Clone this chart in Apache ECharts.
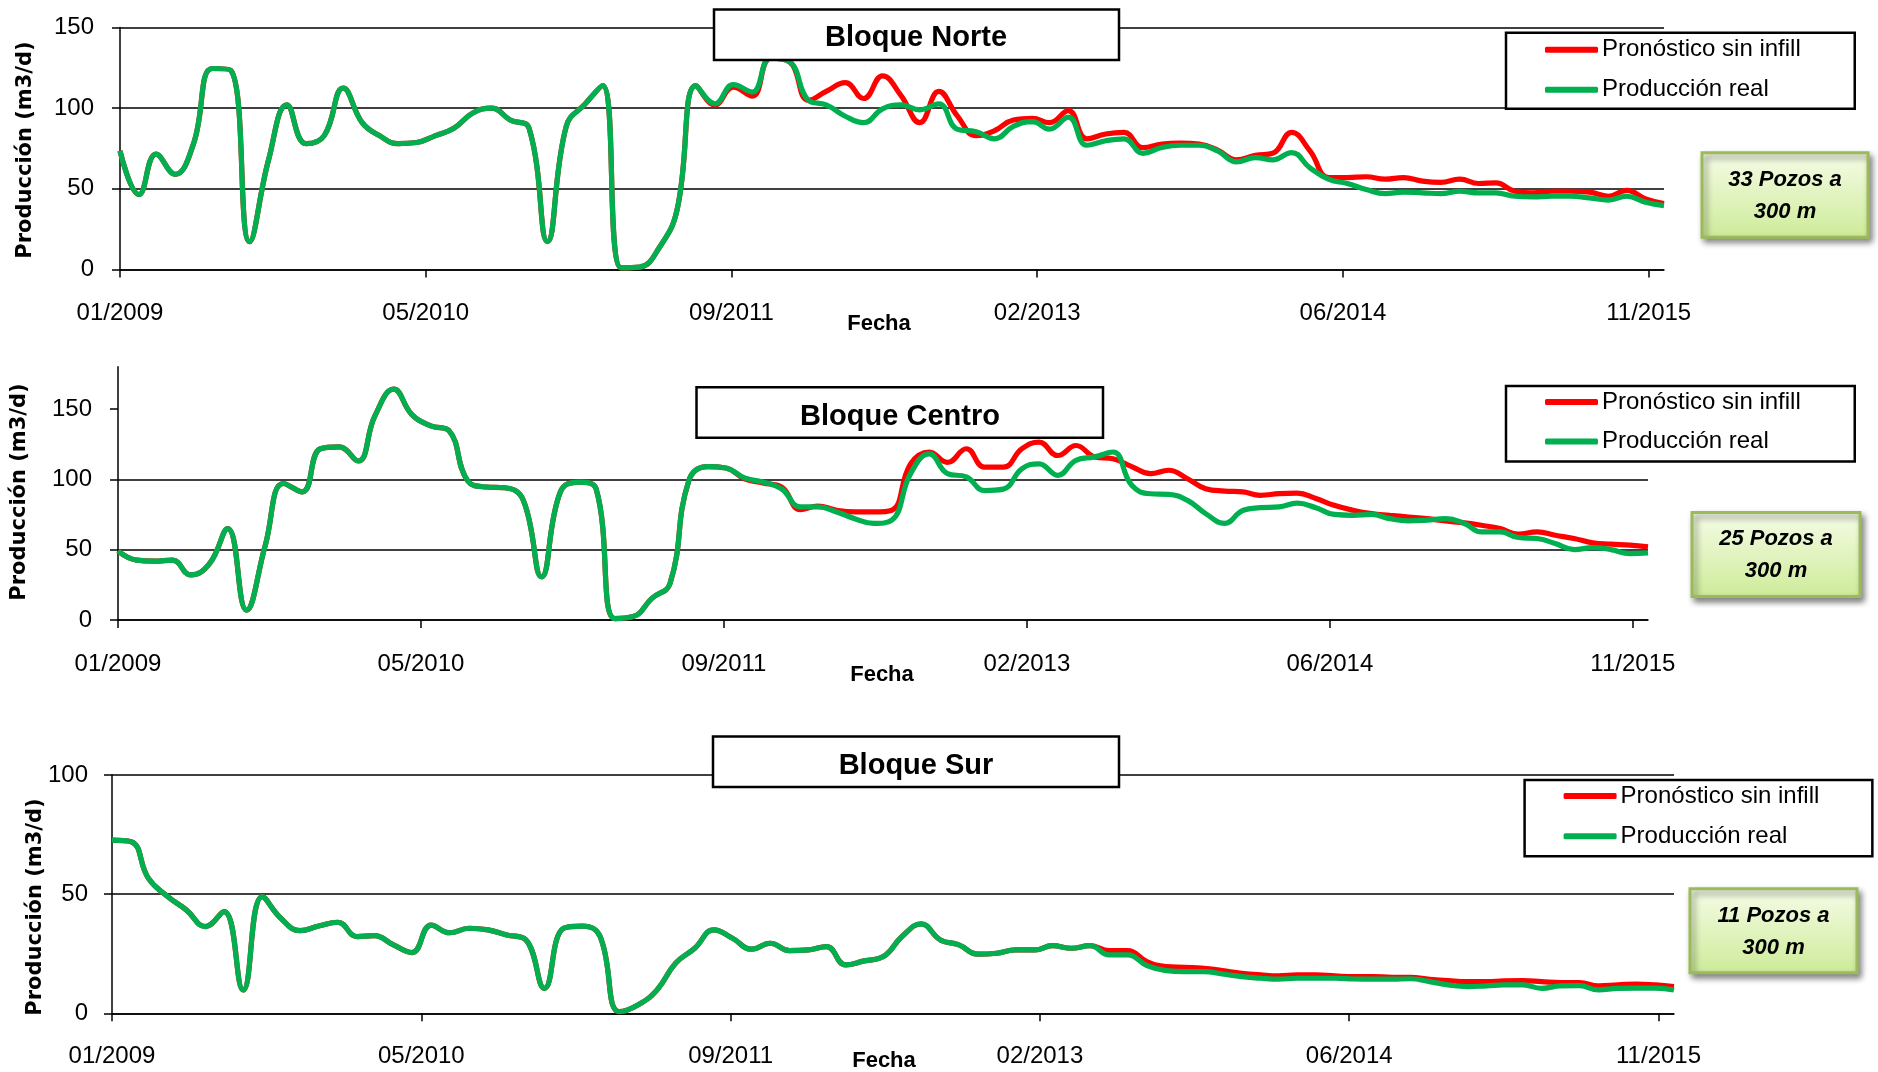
<!DOCTYPE html>
<html>
<head>
<meta charset="utf-8">
<script src="https://cdn.jsdelivr.net/npm/echarts@6/dist/echarts.min.js"></script>
<style>
html,body{margin:0;padding:0;background:#fff;}
#chart{width:1878px;height:1072px;}
</style>
</head>
<body>
<div id="chart"></div>
<script>
// ---- categories: monthly dates 01/2009 .. 12/2015 ----
const startYear = 2009;
const monthCount = 84;
const months = [];
for (let k = 0; k < monthCount; k++) months.push(Date.UTC(startYear, k, 1));

// x-axis tick positions (days from 01/01/2009, Excel major unit 500 days)
const xTickDays = [0, 500, 1000, 1500, 2000, 2500];
const xMaxDays = 2525;

const seriesNames = ['Pronóstico sin infill', 'Producción real'];
const blockTitles = ['Bloque Norte', 'Bloque Centro', 'Bloque Sur'];
const wellNotes = ['33 Pozos a\n300 m', '25 Pozos a\n300 m', '11 Pozos a\n300 m'];
const yTicksNorte = [0, 50, 100, 150];
const yTicksCentro = [0, 50, 100, 150];
const yTicksSur = [0, 50, 100];

// ---- Bloque Norte ----
const norteReal = [73.5,46.5,71.5,59,77.7,124.6,123.5,17.3,68,102,78,83,112.5,91,83,78,78.7,83,87.5,97,100,92.7,87.5,17.3,89,102.7,114,1,1.5,13,37,
  114,102.7,114.6,110,131,128.7,104.8,102,95,91,99.6,102,99,102.7,87,85.4,81,88.7,91.7,87,94.4,77,79.8,81,72,
  75.6,77,77,73.5,66.7,69.4,68,72.5,63,55.8,53.3,49.6,47,48,47.5,47,48.5,47.5,47.5,45.4,45,45.4,45.4,44.4,43,45.4,41.7,39.6];
const nortePron = [73.5,46.5,71.5,59,77.7,124.6,123.5,17.3,68,102,78,83,112.5,91,83,78,78.7,83,87.5,97,100,92.7,87.5,17.3,89,102.7,114,1,1.5,13,37,
  114,102,113,107.5,131,128.7,104.8,110.4,115.8,106,120,108,91,110.4,95.4,83,86,92.7,93.7,91,98.5,81,84,85,75.5,
  77.7,78.3,77.7,74,68,70.8,72,85,73.5,57,57,57.5,56,57,54.8,54,56,53.3,53.7,48.5,47.5,48.5,48.5,48,45.4,49,43.7,40.8];

// ---- Bloque Centro ----
const centroReal = [49,42.5,41.8,42.5,32,40,65,7,53,97,91,121.7,123,113,145,164,146,138,134.6,99,94.5,94,85,30.7,91,98,93.3,1,2.4,15.4,26,
  99,109,108,101,98,93.3,80.4,80.4,76.8,72,68.6,71,104,118,104,101.7,92,93,107.5,111,102.8,113.5,115.9,119.4,95.7,
  89.7,89.3,85,75.6,68.6,78,79.8,80.4,83,79.8,75,74.4,75,72,70.4,71,72,68.6,62.6,62.6,58.6,57.9,54.3,50,51.5,50,47.2,47.7];
const centroPron = [49,42.5,41.8,42.5,32,40,65,7,53,97,91,121.7,123,113,145,164,146,138,134.6,99,94.5,94,85,30.7,91,98,93.3,1,2.4,15.4,26,
  99,109,108,100.4,97.4,94.5,78.5,81,78,76.8,76.8,78,111,119.4,112,121.7,108.7,108.7,121.7,126.4,116.9,124,115.9,114.6,109,
  104,106.4,100.4,93.3,91.6,91,88.6,89.8,90.2,86.3,81.5,78,75.6,74.4,73.2,72,70.4,69,67.3,65,61,62.6,60.2,57.9,54.8,53.9,53.2,52];

// ---- Bloque Sur ----
const surReal = [72.7,72,56.6,49,43.4,36.4,42.7,9.8,49,39.9,34.7,36.6,38.2,32.2,32.6,28.7,25.5,37,33.8,35.7,35,32.9,30.8,10.5,35.7,36.6,32.2,0.7,3.5,9.8,21,
  27.3,35,31.5,26.9,29.4,26.3,26.6,28,20.3,22,23.8,32.2,37.5,30.8,28.7,24.8,25.2,26.6,26.6,28.4,27.3,28.4,24.5,24.5,20,
  17.9,17.5,17.5,16.5,15.4,14.7,14.3,14.7,14.7,14.7,14.4,14.3,14.3,14.5,13.3,11.9,11.2,11.5,11.9,11.9,10.5,11.5,11.6,9.8,10.5,10.6,10.6,9.8];
const surPron = [72.7,72,56.6,49,43.4,36.4,42.7,9.8,49,39.9,34.7,36.6,38.2,32.2,32.6,28.7,25.5,37,33.8,35.7,35,32.9,30.8,10.5,35.7,36.6,32.2,0.7,3.5,9.8,21,
  27.3,35,31.5,26.9,29.4,26.3,26.6,28,20.3,22,23.8,32.2,37.5,30.8,28.7,24.8,25.2,26.6,26.6,28.4,27.3,28.4,26.3,26.3,21.7,
  19.6,19.3,18.9,17.9,16.8,16.1,15.7,16.1,16.1,15.7,15.4,15.4,15.1,15.1,14.3,13.7,13.3,13.3,13.6,13.7,13.3,12.9,12.9,11.5,11.9,12.3,11.9,11.2];

// ---------------------------------------------------------------
const DAY = 86400000;
const origin = Date.UTC(startYear, 0, 1);
const dayOf = t => (t - origin) / DAY;
const pairs = vals => vals.map((v, i) => [dayOf(months[i]), v]);
const pad2 = n => (n < 10 ? '0' : '') + n;
const fmtDay = v => { const d = new Date(origin + v * DAY); return pad2(d.getUTCMonth() + 1) + '/' + d.getUTCFullYear(); };

const FONT = '"Liberation Sans", Arial, sans-serif';
const RED = '#ff0000', GREEN = '#00b050';

const grids = [
  {left: 120, top: 27.5, width: 1544, height: 242},
  {left: 118, top: 366.7, width: 1530, height: 253.3},
  {left: 112, top: 775, width: 1562, height: 238.3}
];
const yMax = [150, 180, 100];
const yTicks = [yTicksNorte, yTicksCentro, yTicksSur];
const xMargin = [32, 32, 31];
const yMargin = [26, 26, 24];

const xAxes = grids.map((g, i) => ({
  type: 'value', gridIndex: i, min: 0, max: xMaxDays,
  axisLine: {show: true, lineStyle: {color: '#000', width: 1.5}},
  axisTick: {show: true, length: 8, lineStyle: {color: '#000', width: 1.5}, customValues: xTickDays},
  axisLabel: {customValues: xTickDays, formatter: fmtDay, fontSize: 24, fontFamily: FONT, color: '#000', margin: xMargin[i]},
  splitLine: {show: false}
}));
const yAxes = grids.map((g, i) => ({
  type: 'value', gridIndex: i, min: 0, max: yMax[i], interval: 50,
  axisLine: {show: true, lineStyle: {color: '#000', width: 1.5}},
  axisTick: {show: true, length: 8, lineStyle: {color: '#000', width: 1.5}, customValues: yTicks[i]},
  axisLabel: {customValues: yTicks[i], fontSize: 24, fontFamily: FONT, color: '#000', margin: yMargin[i]},
  splitLine: {show: true, showMaxLine: i !== 1, lineStyle: {color: '#000', width: 1.5}}
}));

const data = [[nortePron, norteReal], [centroPron, centroReal], [surPron, surReal]];
const series = [];
data.forEach((pair, i) => {
  [RED, GREEN].forEach((c, j) => {
    series.push({
      name: seriesNames[j], type: 'line', xAxisIndex: i, yAxisIndex: i,
      data: pairs(pair[j]), smooth: 0.45, symbol: 'none', showSymbol: false,
      lineStyle: {color: c, width: 5.2}, itemStyle: {color: c},
      emphasis: {disabled: true}, z: 2 + j
    });
  });
});

const legendPos = [
  {left: 1506, top: 32.7, padding: [5, 54, 7, 39], itemGap: 16},
  {left: 1506, top: 386, padding: [4, 54, 8, 39], itemGap: 15.4},
  {left: 1524.6, top: 780, padding: [4, 53, 8, 39], itemGap: 16.3}
];
const legends = legendPos.map(p => ({
  orient: 'vertical', left: p.left, top: p.top, padding: p.padding, itemGap: p.itemGap,
  itemWidth: 53, itemHeight: 6, icon: 'roundRect', data: seriesNames,
  borderColor: '#000', borderWidth: 2.5, backgroundColor: '#fff', borderRadius: 0,
  textStyle: {fontSize: 24, fontFamily: FONT, color: '#000', padding: [0, 0, 0, -1]},
  selectedMode: false
}));

// overlays: title boxes, axis names, annotation boxes
const titleBoxes = [
  {x: 714, y: 9.5, w: 405, h: 50.5, cx: 916, cy: 38},
  {x: 696.5, y: 387.3, w: 406.5, h: 50.4, cx: 900, cy: 417},
  {x: 713, y: 736.5, w: 406, h: 50.5, cx: 916, cy: 766}
];
const yNamePos = [[26, 150], [20, 492], [36, 907]];
const fechaPos = [[879, 324], [882, 675], [884, 1061]];
const noteBoxes = [
  {x: 1702, y: 152.7, w: 166, h: 84.6, cx: 1785, cy: 196},
  {x: 1692, y: 512.6, w: 168, h: 84, cx: 1776, cy: 555},
  {x: 1690, y: 888.7, w: 167, h: 84, cx: 1773.5, cy: 932}
];
const graphic = [];
titleBoxes.forEach((b, i) => {
  graphic.push({type: 'rect', z: 100, shape: {x: b.x, y: b.y, width: b.w, height: b.h},
    style: {fill: '#fff', stroke: '#000', lineWidth: 2.5}});
  graphic.push({type: 'text', z: 101, x: b.cx, y: b.cy,
    style: {text: blockTitles[i], fontSize: 29, fontWeight: 'bold', fontFamily: FONT, fill: '#000', align: 'center', verticalAlign: 'middle'}});
});
yNamePos.forEach(p => {
  graphic.push({type: 'text', z: 100, x: p[0], y: p[1], rotation: Math.PI / 2,
    style: {text: 'Producción (m3/d)', fontSize: 21, fontWeight: 'bold', fontFamily: '"DejaVu Sans", Verdana, sans-serif', fill: '#000', align: 'center', verticalAlign: 'middle'}});
});
fechaPos.forEach(p => {
  graphic.push({type: 'text', z: 100, x: p[0], y: p[1],
    style: {text: 'Fecha', fontSize: 22, fontWeight: 'bold', fontFamily: FONT, fill: '#000', align: 'center', verticalAlign: 'middle'}});
});
noteBoxes.forEach((b, i) => {
  graphic.push({type: 'rect', z: 100, shape: {x: b.x, y: b.y, width: b.w, height: b.h},
    style: {
      fill: {type: 'linear', x: 0, y: 0, x2: 0, y2: 1, colorStops: [{offset: 0, color: '#f6fce8'}, {offset: 1, color: '#cdeb98'}]},
      stroke: '#9bbb59', lineWidth: 3,
      shadowBlur: 6, shadowColor: 'rgba(0,0,0,0.45)', shadowOffsetX: 3, shadowOffsetY: 4
    }});
  graphic.push({type: 'text', z: 101, x: b.cx, y: b.cy,
    style: {text: wellNotes[i], fontSize: 22, fontWeight: 'bold', fontStyle: 'italic', fontFamily: FONT, fill: '#000',
      align: 'center', verticalAlign: 'middle', lineHeight: 32}});
});

const chart = echarts.init(document.getElementById('chart'), null, {renderer: 'canvas'});
chart.setOption({
  backgroundColor: '#fff',
  animation: false,
  grid: grids,
  xAxis: xAxes,
  yAxis: yAxes,
  legend: legends,
  series: series,
  graphic: graphic
});
</script>
</body>
</html>
